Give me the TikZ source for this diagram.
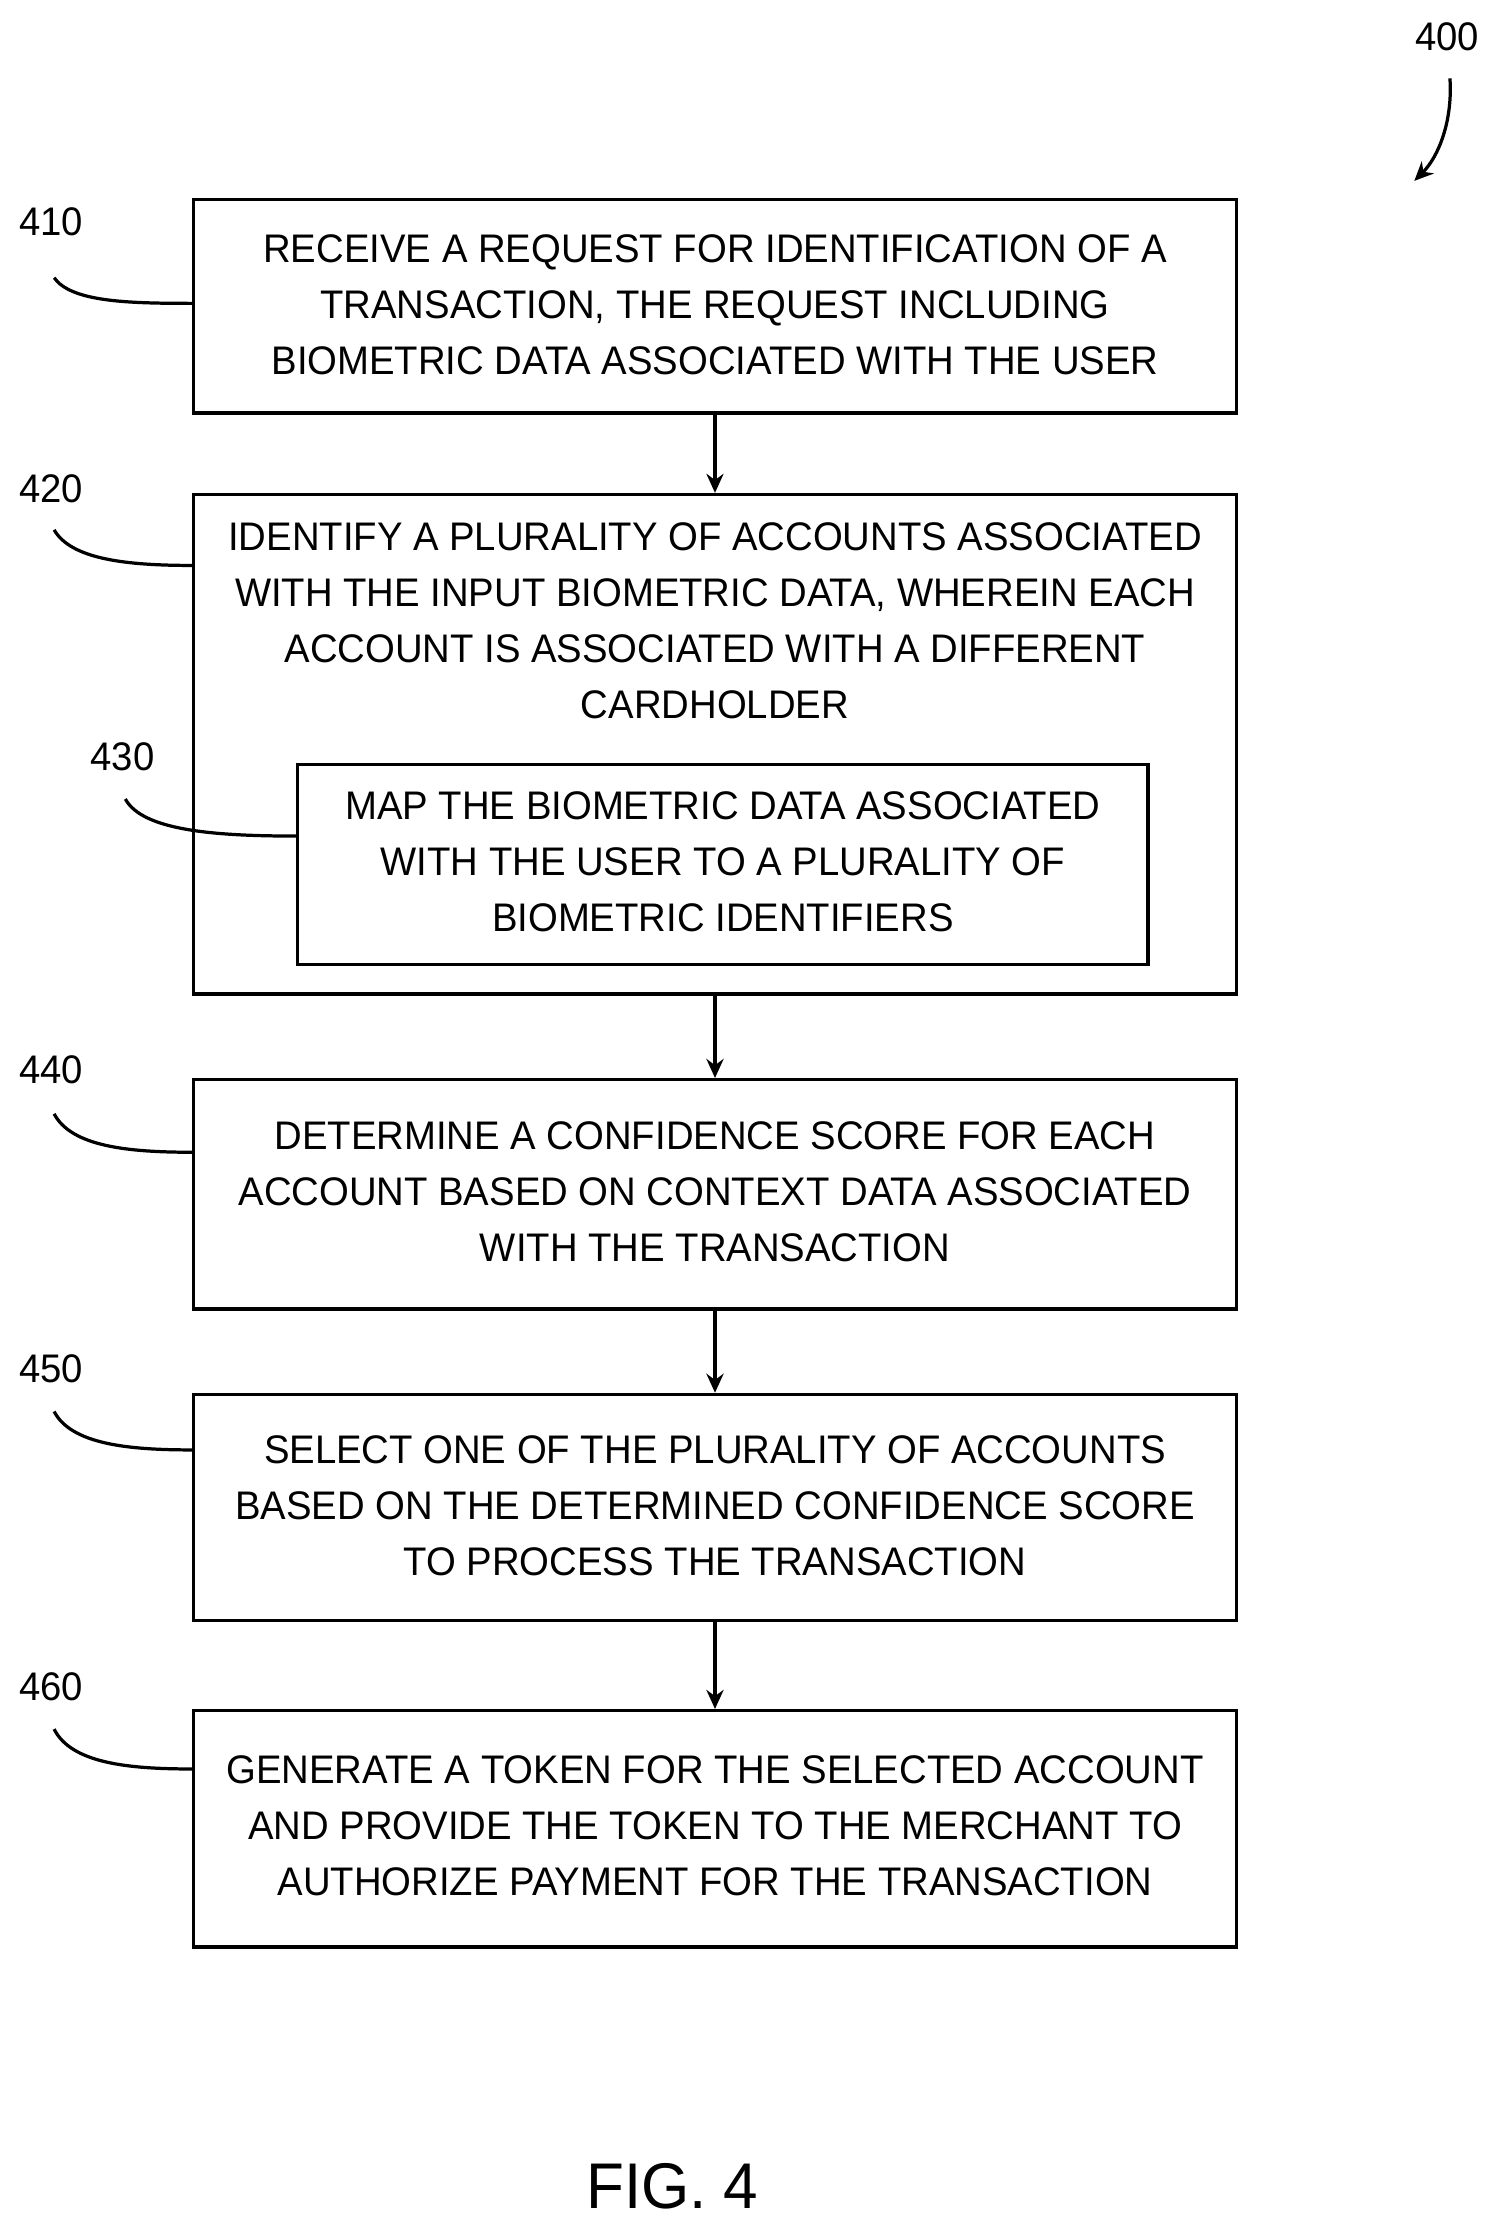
\documentclass[tikz,border=0pt]{standalone}
\usepackage{fontspec}
\setmainfont{Liberation Sans}[FakeStretch=0.96]
\usetikzlibrary{arrows.meta}
\begin{document}
\begin{tikzpicture}[x=0.75pt,y=-0.75pt,
  box/.style={draw,line width=1.7pt,inner sep=0pt},
  txt/.style={align=center,font=\fontsize{21}{29.5}\selectfont,inner sep=0pt},
  lab/.style={font=\fontsize{21}{25}\selectfont,inner sep=0pt},
  lead/.style={line width=1.7pt},
  arr/.style={line width=1.7pt,-{Stealth[length=10pt,width=9pt]}}]
\useasboundingbox (0,0) rectangle (1050,1565);
\node[box,minimum width=549pt,minimum height=112.5pt] (b410) at (502,215) {};
\node[txt] (t410) at (502,214) {RECEIVE A REQUEST FOR IDENTIFICATION OF A\\TRANSACTION, THE REQUEST INCLUDING\\BIOMETRIC DATA ASSOCIATED WITH THE USER};
\node[box,minimum width=549pt,minimum height=263pt] (b420) at (502,522.5) {};
\node[txt] (t420) at (502,436) {IDENTIFY A PLURALITY OF ACCOUNTS ASSOCIATED\\WITH THE INPUT BIOMETRIC DATA, WHEREIN EACH\\ACCOUNT IS ASSOCIATED WITH A DIFFERENT\\CARDHOLDER};
\node[box,minimum width=447.75pt,minimum height=105pt] (b430) at (507.5,607) {};
\node[txt] (t430) at (507.5,605) {MAP THE BIOMETRIC DATA ASSOCIATED\\WITH THE USER TO A PLURALITY OF\\BIOMETRIC IDENTIFIERS};
\node[box,minimum width=549pt,minimum height=120.75pt] (b440) at (502,838.5) {};
\node[txt] (t440) at (502,837) {DETERMINE A CONFIDENCE SCORE FOR EACH\\ACCOUNT BASED ON CONTEXT DATA ASSOCIATED\\WITH THE TRANSACTION};
\node[box,minimum width=549pt,minimum height=119.25pt] (b450) at (502,1058.5) {};
\node[txt] (t450) at (502,1057) {SELECT ONE OF THE PLURALITY OF ACCOUNTS\\BASED ON THE DETERMINED CONFIDENCE SCORE\\TO PROCESS THE TRANSACTION};
\node[box,minimum width=549pt,minimum height=124.5pt] (b460) at (502,1284) {};
\node[txt] (t460) at (502,1282) {GENERATE A TOKEN FOR THE SELECTED ACCOUNT\\AND PROVIDE THE TOKEN TO THE MERCHANT TO\\AUTHORIZE PAYMENT FOR THE TRANSACTION};
\draw[arr] (b410.south) -- (b420.north);
\draw[arr] (b420.south) -- (b440.north);
\draw[arr] (b440.south) -- (b450.north);
\draw[arr] (b450.south) -- (b460.north);
\node[lab] (l410) at (36,156) {410};
\node[lab] (l420) at (36,343) {420};
\node[lab] (l430) at (86,531) {430};
\node[lab] (l440) at (36,751) {440};
\node[lab] (l450) at (36,961) {450};
\node[lab] (l460) at (36,1184) {460};
\node[lab] (l400) at (1016,26) {400};
\coordinate (c410) at (b410.west |- 0,213);
\coordinate (c420) at (b420.west |- 0,397);
\coordinate (c430) at (b430.west |- 0,587);
\coordinate (c440) at (b440.west |- 0,809);
\coordinate (c450) at (b450.west |- 0,1018);
\coordinate (c460) at (b460.west |- 0,1242);
\draw[lead] (38,195) .. controls (50,212) and (90,213) .. (c410);
\draw[lead] (38,372) .. controls (50,393) and (90,397) .. (c420);
\draw[lead] (88,561) .. controls (100,583) and (150,587) .. (c430);
\draw[lead] (38,782) .. controls (50,805) and (90,809) .. (c440);
\draw[lead] (38,991) .. controls (50,1014) and (90,1018) .. (c450);
\draw[lead] (38,1214) .. controls (50,1238) and (90,1242) .. (c460);
\coordinate (e400) at (993,127);
\draw[arr] (1018,55) .. controls (1020,85) and (1010,110) .. (e400);
\node[font=\fontsize{34}{40}\selectfont,inner sep=0pt] (fig) at (472,1535) {FIG. 4};
\end{tikzpicture}
\end{document}
